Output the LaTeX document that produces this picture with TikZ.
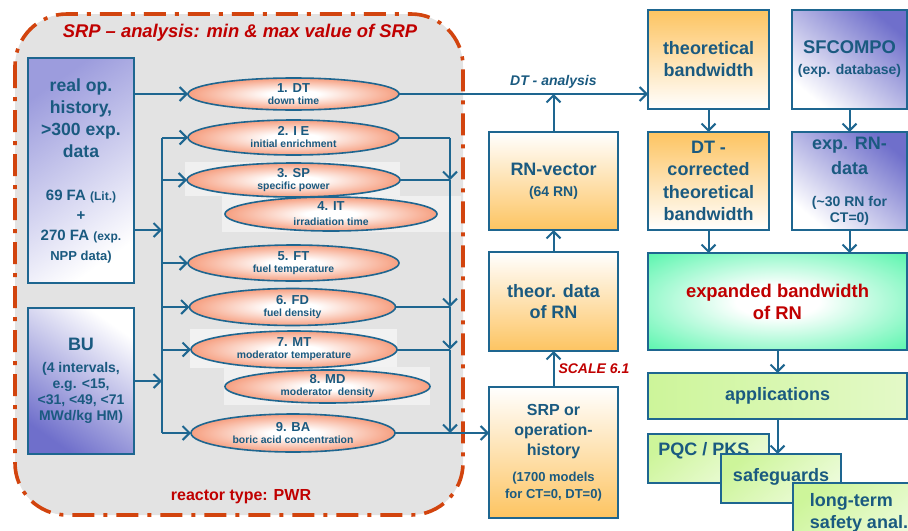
\documentclass[tikz,border=0pt]{standalone}
\usepackage{fontspec}
\setmainfont{Liberation Sans}
\usetikzlibrary{shapes.geometric,arrows.meta}
\definecolor{txt}{HTML}{1A5A80}
\definecolor{ln}{HTML}{1E6690}
\definecolor{dred}{HTML}{C00000}
\definecolor{dashc}{HTML}{D2440E}
\definecolor{salm}{HTML}{F4865F}
\definecolor{org}{HTML}{FDC461}
\definecolor{lav}{HTML}{9C9CDD}
\definecolor{dlav}{HTML}{6F6FCB}
\definecolor{grn}{HTML}{26F294}
\definecolor{lgrn}{HTML}{CDF59A}
\pgfdeclareradialshading{ellsh}{\pgfpoint{0bp}{0bp}}{color(0bp)=(white); color(6bp)=(white); color(30bp)=(salm); color(50bp)=(salm)}
\pgfdeclareradialshading{grnsh}{\pgfpoint{0bp}{0bp}}{color(0bp)=(white); color(8bp)=(white); color(44bp)=(grn); color(50bp)=(grn)}
\newcommand{\szS}{\fontsize{5.2}{6}\selectfont}
\begin{document}
\begin{tikzpicture}[x=0.5pt,y=-0.5pt,
  box/.style={draw=ln, line width=0.6pt, align=center, text=txt, inner sep=1pt, outer sep=0pt, anchor=north west},
  ell/.style={ellipse, draw=ln, line width=0.8pt, shading=ellsh, inner sep=0pt, outer sep=0pt, align=center, text=txt, font=\bfseries\fontsize{6.5}{6}\selectfont},
  arr/.style={draw=ln, line width=1pt, -{Straight Barb[length=3.5pt,width=7pt]}},
  con/.style={draw=ln, line width=1pt},
  orgdown/.style={top color=white, bottom color=org},
  orgup/.style={top color=org, bottom color=white},
  gbox/.style={box, top color=lgrn, bottom color=lgrn!35!white, shading angle=40}
]
\path[use as bounding box] (0,0) rectangle (908,530);
\clip (0,0) rectangle (908,530);

% SRP analysis region
\draw[dashc, line width=1.8pt, dash pattern=on 11pt off 4.5pt on 2pt off 4.5pt, fill=black!11, rounded corners=26pt]
  (15,14) rectangle (463,515);
\fill[white!94!black] (185,162) rectangle (400,196);
\fill[white!94!black] (222,196) rectangle (461,232);
\fill[white!95!black] (190,329) rectangle (397,368);
\fill[white!94!black] (224,367) rectangle (430,405);

\node[text=dred, font=\bfseries\itshape\fontsize{9.2}{11}\selectfont] (title) at (240,33) {SRP -- analysis: min \& max value of SRP};
\node[text=dred, font=\bfseries\fontsize{8}{10}\selectfont] (rt) at (241,497) {reactor type: PWR};

% left boxes
\node[box, minimum width=53pt, minimum height=112.5pt, top color=lav, bottom color=white, shading angle=35,
  font=\bfseries\fontsize{8.8}{11}\selectfont] (real) at (28,58)
  {real op.\\history,\\>300 exp.\\data\\[10.5pt]{\fontsize{7.5}{9}\selectfont 69 FA \fontsize{6}{7}\selectfont(Lit.)}\\[-1pt]{\fontsize{7.5}{9}\selectfont +}\\[-1pt]{\fontsize{7.5}{9}\selectfont 270 FA \fontsize{6}{7}\selectfont(exp.}\\[-1pt]{\fontsize{6.5}{7}\selectfont NPP data)}};
\node[box, minimum width=53pt, minimum height=73pt, top color=white, bottom color=dlav, shading angle=-35,
  font=\bfseries\fontsize{7}{8}\selectfont] (bu) at (28,308)
  {{\fontsize{9}{11}\selectfont BU}\\[3pt](4 intervals,\\e.g. <15,\\<31, <49, <71\\MWd/kg HM)};

% ellipses
\node[ell, minimum width=105.5pt, minimum height=16pt] (dt) at (293.5,94) {1. DT\\{\szS down time}};
\node[ell, minimum width=105.5pt, minimum height=17.5pt] (ie) at (293.5,137.5) {2. I E\\{\szS initial enrichment}};
\node[ell, minimum width=106.5pt, minimum height=17pt] (sp) at (293.5,180) {3. SP\\{\szS specific power}};
\node[ell, minimum width=106pt, minimum height=17pt] (it) at (331,214) {4. IT\\[1.5pt]{\szS irradiation time}};
\node[ell, minimum width=105.5pt, minimum height=18pt] (ft) at (293.5,263) {5. FT\\{\szS fuel temperature}};
\node[ell, minimum width=103pt, minimum height=18.5pt] (fd) at (292.5,307) {6. FD\\{\szS fuel density}};
\node[ell, minimum width=103pt, minimum height=18.5pt] (mt) at (294,349.5) {7. MT\\{\szS moderator temperature}};
\node[ell, minimum width=102.5pt, minimum height=16.5pt] (md) at (327.5,386.5) {8. MD\\{\szS moderator\ \ density}};
\node[ell, minimum width=102pt, minimum height=19pt] (ba) at (293,433) {9. BA\\{\szS boric acid concentration}};

% middle column
\node[box, minimum width=64.5pt, minimum height=49pt, orgdown, font=\bfseries\fontsize{9}{10.5}\selectfont] (rnv) at (489,132)
  {RN-vector\\{\fontsize{7}{8}\selectfont(64 RN)}};
\node[box, minimum width=64.5pt, minimum height=49.5pt, orgdown, font=\bfseries\fontsize{9}{10.5}\selectfont] (td) at (489,252)
  {theor. data\\of RN};
\node[box, minimum width=64.5pt, minimum height=65.5pt, orgdown, font=\bfseries\fontsize{8}{10}\selectfont] (srp) at (489,387)
  {SRP or\\operation-\\history\\[3pt]{\fontsize{6.5}{7}\selectfont(1700 models}\\[-1.5pt]{\fontsize{6.5}{7}\selectfont for CT=0, DT=0)}};

% right column
\node[box, minimum width=60.5pt, minimum height=49.5pt, orgup, font=\bfseries\fontsize{9}{11}\selectfont] (tb) at (648,10)
  {theoretical\\bandwidth};
\node[box, minimum width=57.5pt, minimum height=49.5pt, top color=dlav, bottom color=white, shading angle=-40, font=\bfseries\fontsize{9.2}{10.5}\selectfont] (sf) at (792,10)
  {SFCOMPO\\{\fontsize{7}{8}\selectfont(exp. database)}};
\node[box, minimum width=60.5pt, minimum height=49pt, orgup, font=\bfseries\fontsize{9}{11.2}\selectfont] (dc) at (648,132)
  {DT -\\corrected\\theoretical\\bandwidth};
\node[box, minimum width=57.5pt, minimum height=49pt, top color=dlav, bottom color=white, shading angle=-40, font=\bfseries\fontsize{7}{8}\selectfont] (er) at (792,132)
  {{\fontsize{9}{11}\selectfont exp. RN-}\\[3pt]{\fontsize{9}{11}\selectfont data}\\[8pt](\textasciitilde30 RN for\\CT=0)};
\node[box, minimum width=129.5pt, minimum height=48.5pt, shading=grnsh, text=dred, font=\bfseries\fontsize{9.2}{11}\selectfont] (ex) at (648,253)
  {expanded bandwidth\\of RN};
\node[box, minimum width=129.5pt, minimum height=23pt, left color=lgrn, right color=lgrn!55!white, font=\bfseries\fontsize{9}{11}\selectfont] (ap) at (648,373)
  {applications};
\node[gbox, minimum width=60.5pt, minimum height=24.5pt,
  label={[anchor=north west, text=txt, font=\bfseries\fontsize{9}{11}\selectfont, inner sep=0pt, xshift=5pt, yshift=-4pt]north west:PQC / PKS}] (pq) at (648,434) {};

\draw[arr] (ap.south) -- (ap.south |- 0,454) coordinate (sgtop);

\node[gbox, minimum width=60pt, minimum height=24.5pt, font=\bfseries\fontsize{9}{11}\selectfont, text depth=4pt] (sg) at (721,454)
  {safeguards};
\node[gbox, minimum width=66pt, minimum height=30pt, align=left, font=\bfseries\fontsize{9}{11}\selectfont] (lt) at (793,483)
  {long-term\\safety anal.};

% left bus
\coordinate (lbT) at (162,137.5);
\coordinate (lbB) at (162,433);
\coordinate (j1) at (162,230);
\coordinate (j2) at (162,381);
\draw[con] (lbT) -- (lbB);
\draw[arr] (real.east |- dt.west) -- (dt.west);
\draw[arr] (real.east |- j1) -- (j1);
\draw[arr] (bu.east |- j2) -- (j2);
\draw[arr] (lbT) -- (ie.west);
\draw[arr] (lbT |- sp.west) -- (sp.west);
\draw[arr] (lbT |- ft.west) -- (ft.west);
\draw[arr] (lbT |- fd.west) -- (fd.west);
\draw[arr] (lbT |- mt.west) -- (mt.west);
\draw[arr] (lbB) -- (ba.west);

% right bus
\coordinate (rbT) at (450,137.5);
\draw[con] (ie.east) -- (rbT);
\draw[con] (sp.east) -- (rbT |- sp.east);
\draw[con] (fd.east) -- (rbT |- fd.east);
\draw[con] (mt.east) -- (rbT |- mt.east);
\draw[arr] (rbT) -- (rbT |- sp.east);
\draw[arr] (rbT |- sp.east) -- (rbT |- fd.east);
\draw[arr] (rbT |- fd.east) -- (rbT |- mt.east);
\draw[arr] (rbT |- mt.east) -- (rbT |- ba.east);
\draw[arr] (ba.east) -- (srp.west |- ba.east);

% DT analysis line
\draw[arr] (dt.east) -- (tb.west |- dt.east)
  node[pos=0.62, above, inner sep=2.5pt, text=txt, font=\bfseries\itshape\fontsize{7}{8}\selectfont] (dtl) {DT - analysis};
\draw[arr] (rnv.north) -- (rnv.north |- dt.east);
\draw[arr] (td.north) -- (rnv.south);
\draw[arr] (srp.north) -- (td.south)
  node[midway, right, inner sep=2pt, text=dred, font=\bfseries\itshape\fontsize{7}{8}\selectfont] (sc) {SCALE 6.1};

% right column arrows
\draw[arr] (tb.south) -- (dc.north);
\draw[arr] (sf.south) -- (er.north);
\draw[arr] (dc.south) -- (dc.south |- ex.north);
\draw[arr] (er.south) -- (er.south |- ex.north);
\draw[arr] (ex.south -| ap.north) -- (ap.north);
\end{tikzpicture}
\end{document}
